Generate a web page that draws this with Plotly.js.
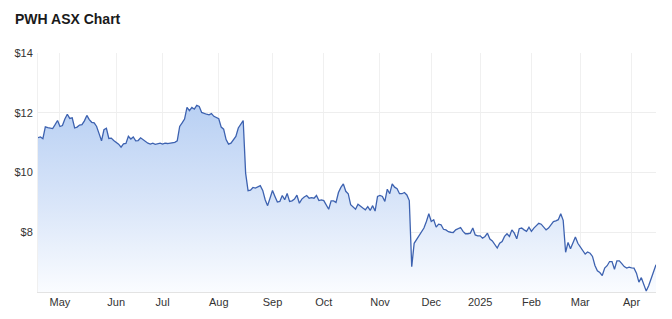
<!DOCTYPE html>
<html>
<head>
<meta charset="utf-8">
<script src="https://cdn.plot.ly/plotly-3.0.1.min.js"></script>
<style>html,body{margin:0;padding:0;background:#fff;}#chart{width:672px;height:319px;}</style>
</head>
<body>
<div id="chart"></div>
<script>
// Trading-day calendar (ASX), first and last session of the chart, and exchange holidays
const startDate = '2024-04-17';
const endDate = '2025-04-15';
const holidays = ['2024-04-25','2024-06-10','2024-12-25','2024-12-26','2025-01-01','2025-01-27'];

// Closing prices (AUD), one per trading day
const prices = [
  11.17,11.19,11.13,11.53,11.50,11.49,11.47,11.60,11.74,11.54,
  11.57,11.79,11.95,11.81,11.83,11.49,11.52,11.59,11.60,11.73,
  11.91,11.77,11.68,11.66,11.54,11.30,11.06,11.43,11.48,11.14,
  11.15,11.07,11.02,10.95,10.85,10.96,10.97,11.21,11.12,11.19,
  11.06,11.07,11.16,11.10,11.02,10.98,10.95,10.98,10.94,10.96,
  10.98,10.95,10.98,10.97,10.98,10.99,11.01,11.06,11.54,11.66,
  11.79,12.18,12.07,12.18,12.12,12.25,12.21,12.01,11.97,11.95,
  11.93,11.97,11.88,11.84,11.80,11.52,11.45,11.10,10.95,10.98,
  11.10,11.21,11.49,11.62,11.74,9.98,9.39,9.41,9.50,9.48,
  9.53,9.56,9.40,9.09,8.89,9.15,9.40,9.20,9.01,9.03,
  9.23,9.09,9.30,9.03,9.05,9.11,9.24,8.97,9.11,9.18,
  9.23,9.14,9.16,9.14,9.23,9.06,9.08,9.06,8.91,8.77,
  9.05,9.05,9.00,9.33,9.50,9.62,9.37,9.29,8.92,8.86,
  8.77,8.94,8.86,8.81,8.75,8.86,8.73,8.89,8.71,9.20,
  9.23,9.20,9.03,9.44,9.29,9.62,9.51,9.46,9.29,9.29,
  9.33,9.25,9.06,6.85,7.63,7.75,7.91,8.03,8.14,8.36,
  8.62,8.36,8.42,8.17,8.27,8.25,8.10,8.08,8.02,8.00,
  7.99,8.08,8.12,8.16,8.03,7.95,7.95,7.97,8.14,7.91,
  7.88,7.88,7.80,7.86,7.97,7.77,7.71,7.58,7.47,7.63,
  7.69,7.86,7.95,7.86,8.08,7.97,7.78,8.12,8.14,8.08,
  8.03,8.17,8.03,8.14,8.23,8.30,8.27,8.19,8.08,8.14,
  8.25,8.36,8.38,8.42,8.62,8.40,7.33,7.66,7.45,7.67,
  7.84,7.63,7.50,7.41,7.27,7.34,7.30,7.19,6.89,6.71,
  6.65,6.55,6.80,6.88,7.02,7.02,6.76,7.04,7.04,6.95,
  6.85,6.80,6.83,6.81,6.80,6.63,6.33,6.48,6.27,6.03,
  6.21,6.46,6.69,6.91
];

// Month tick labels at the first trading day of each month
const tickDates = ['2024-05-01','2024-06-03','2024-07-01','2024-08-01','2024-09-02','2024-10-01',
                   '2024-11-01','2024-12-02','2025-01-02','2025-02-03','2025-03-03','2025-04-01'];
const tickLabels = ['May','Jun','Jul','Aug','Sep','Oct','Nov','Dec','2025','Feb','Mar','Apr'];
const yTicks = [8, 10, 12, 14];
const yTickLabels = ['$8','$10','$12','$14'];

// build list of trading dates
function pad(n){return (n<10?'0':'')+n;}
const dates = [];
let d = new Date(startDate + 'T00:00:00Z');
const end = new Date(endDate + 'T00:00:00Z');
while (d <= end) {
  const s = d.getUTCFullYear()+'-'+pad(d.getUTCMonth()+1)+'-'+pad(d.getUTCDate());
  const wd = d.getUTCDay();
  if (wd !== 0 && wd !== 6 && holidays.indexOf(s) < 0) dates.push(s);
  d = new Date(d.getTime() + 86400000);
}
const n = Math.min(dates.length, prices.length);

const trace = {
  type: 'scatter',
  mode: 'lines',
  x: dates.slice(0, n),
  y: prices.slice(0, n),
  line: {color: '#3d62b0', width: 1.3},
  fill: 'tozeroy',
  fillgradient: {
    type: 'vertical',
    start: 6,
    stop: 12.4,
    colorscale: [[0, 'rgba(250,252,255,1)'], [0.45, 'rgba(218,230,249,1)'], [1, 'rgba(183,207,243,1)']]
  },
  hoverinfo: 'skip'
};

const layout = {
  width: 672, height: 319,
  margin: {l: 38, r: 16, t: 53, b: 27},
  paper_bgcolor: '#ffffff',
  plot_bgcolor: '#ffffff',
  font: {family: '"Liberation Sans", Arial, sans-serif', size: 11, color: '#333333'},
  title: {
    text: '<b>PWH ASX Chart</b>',
    x: 15/672, xanchor: 'left', xref: 'container',
    y: 1 - 19/319, yanchor: 'middle', yref: 'container',
    font: {family: '"Liberation Sans", Arial, sans-serif', size: 14, color: '#1a1a1a'}
  },
  showlegend: false,
  xaxis: {
    type: 'category',
    range: [0, n - 1],
    tickmode: 'array',
    tickvals: tickDates,
    ticktext: tickLabels,
    showgrid: true,
    gridcolor: '#f0f0f0',
    gridwidth: 1,
    showline: true,
    linecolor: '#e3e3e3',
    linewidth: 1,
    ticks: '',
    tickfont: {size: 11, color: '#333333'},
    zeroline: false,
    fixedrange: true
  },
  yaxis: {
    range: [6, 14],
    tickmode: 'array',
    tickvals: yTicks,
    ticktext: yTickLabels,
    showgrid: true,
    gridcolor: '#eeeeee',
    gridwidth: 1,
    showline: true,
    linecolor: '#f0f0f0',
    zeroline: false,
    ticks: '',
    ticklabelstandoff: 2,
    tickfont: {size: 11, color: '#333333'},
    fixedrange: true
  }
};

Plotly.newPlot('chart', [trace], layout, {displayModeBar: false, staticPlot: true});
</script>
</body>
</html>
